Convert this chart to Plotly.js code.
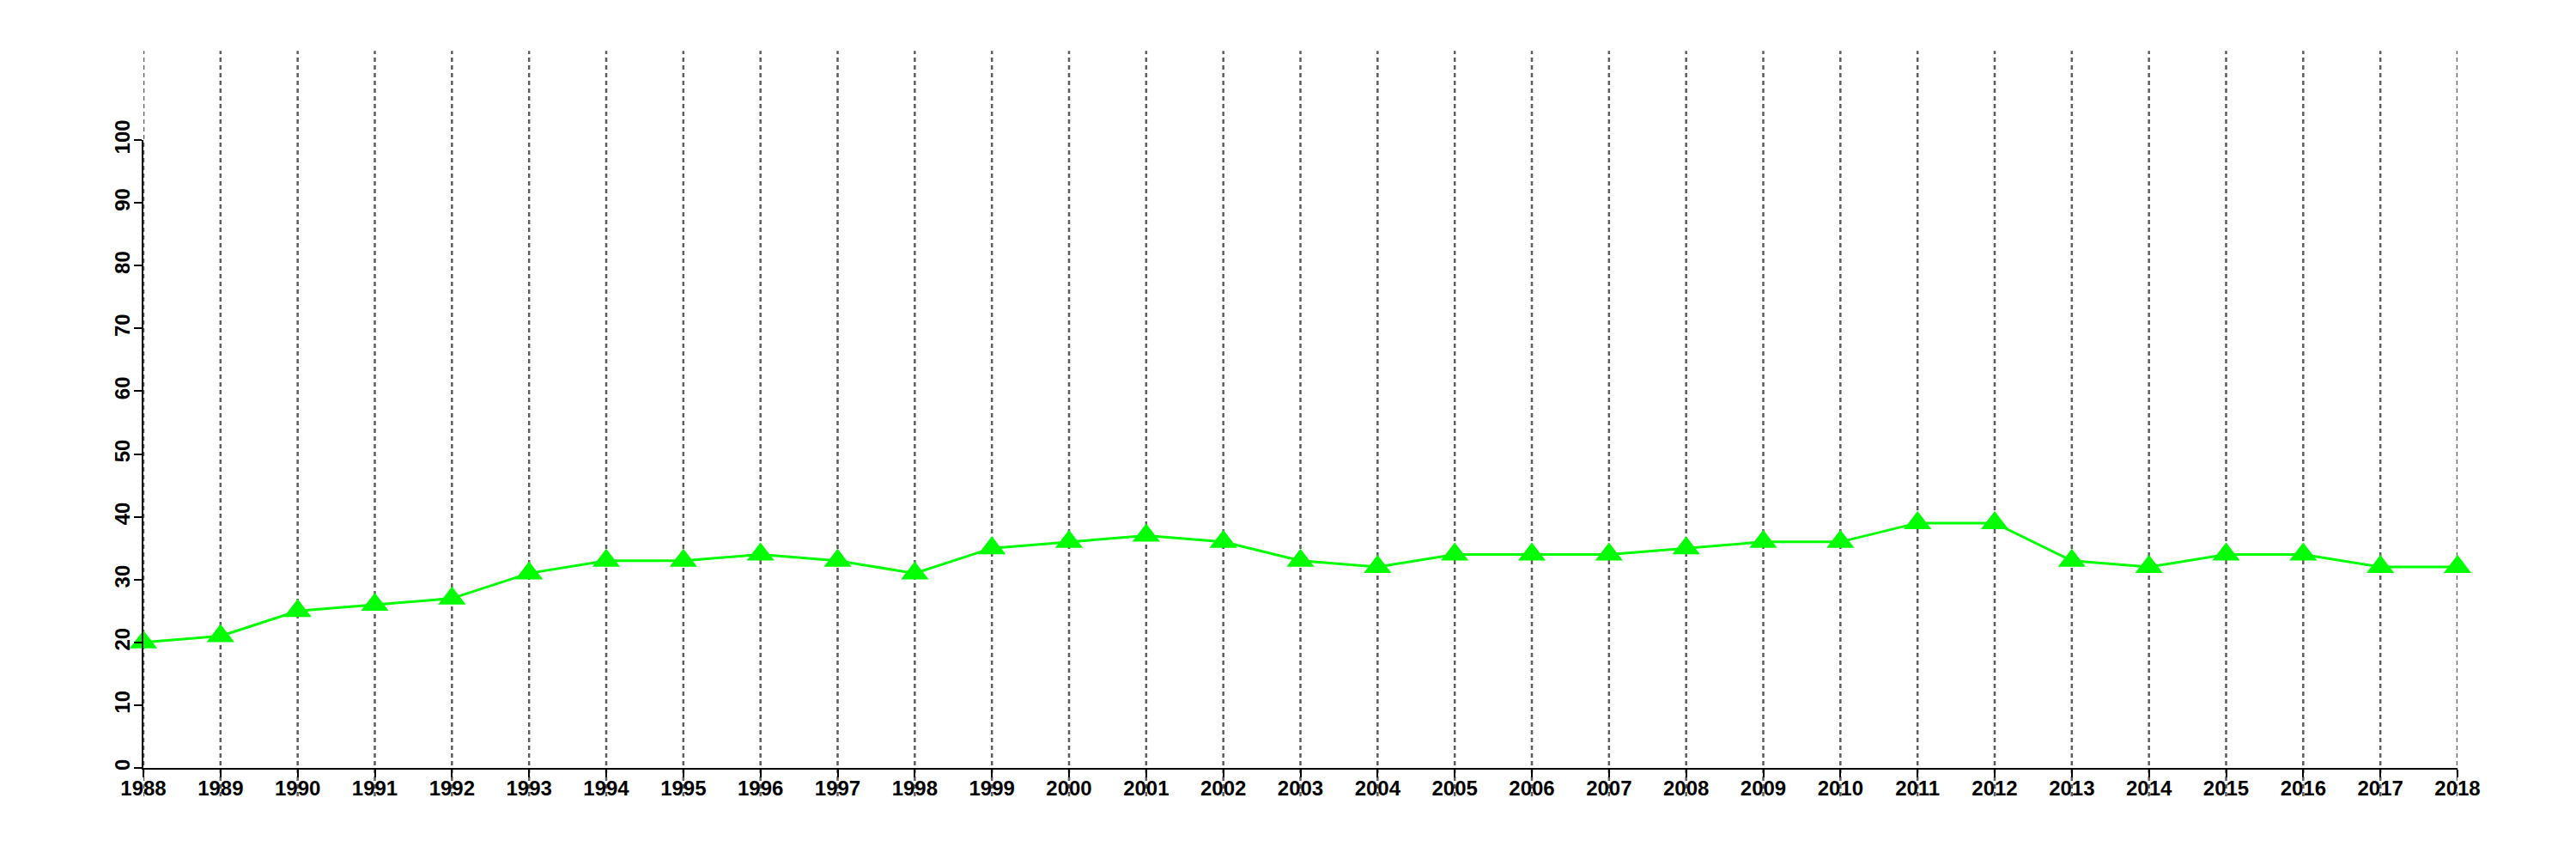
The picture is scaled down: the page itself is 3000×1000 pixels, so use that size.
<!DOCTYPE html>
<html>
<head>
<meta charset="utf-8">
<script src="https://cdn.plot.ly/plotly-3.0.1.min.js"></script>
<style>html,body{margin:0;padding:0;background:#fff;}#chart{width:3000px;height:1000px;}</style>
</head>
<body>
<div id="chart"></div>
<script>
const years = [1988,1989,1990,1991,1992,1993,1994,1995,1996,1997,1998,1999,2000,2001,2002,2003,2004,2005,2006,2007,2008,2009,2010,2011,2012,2013,2014,2015,2016,2017,2018];
const values = [20,21,25,26,27,31,33,33,34,33,31,35,36,37,36,33,32,34,34,34,35,36,36,39,39,33,32,34,34,32,32];
const yTicks = [0,10,20,30,40,50,60,70,80,90,100];

const tickFont = {family: 'Liberation Sans, Arial, sans-serif', size: 24, color: '#000', weight: 'bold'};

const gridShapes = years.map(y => ({
  type: 'line', xref: 'x', yref: 'paper', x0: y, x1: y, y0: -0.045, y1: 1.142,
  line: {color: '#5e5e5e', width: 2.5, dash: '5px,4px'}, layer: 'below'
}));

const trace = {
  x: years, y: values, type: 'scatter', mode: 'lines+markers',
  line: {color: '#00ff00', width: 3},
  marker: {symbol: 'triangle-up', size: 28, color: '#00ff00'},
  cliponaxis: false, showlegend: false
};

const layout = {
  width: 3000, height: 1000,
  margin: {l: 167, r: 138, t: 163, b: 106},
  paper_bgcolor: '#fff', plot_bgcolor: 'rgba(0,0,0,0)',
  showlegend: false,
  xaxis: {
    type: 'linear', range: [1988, 2018], tickvals: years, ticktext: years.map(String),
    showgrid: false, zeroline: false, showline: true, linecolor: '#000', linewidth: 2,
    ticks: 'outside', ticklen: 9, tickwidth: 2, tickcolor: '#000', tickfont: tickFont,
    ticklabelstandoff: -8
  },
  yaxis: {
    range: [0, 100], tickvals: yTicks, ticktext: yTicks.map(String), tickangle: -90,
    showgrid: false, zeroline: false, showline: true, linecolor: '#000', linewidth: 2,
    ticks: 'outside', ticklen: 9, tickwidth: 2, tickcolor: '#000', tickfont: tickFont,
    ticklabelstandoff: -5
  },
  shapes: gridShapes
};

Plotly.newPlot('chart', [trace], layout, {staticPlot: true});
</script>
</body>
</html>
